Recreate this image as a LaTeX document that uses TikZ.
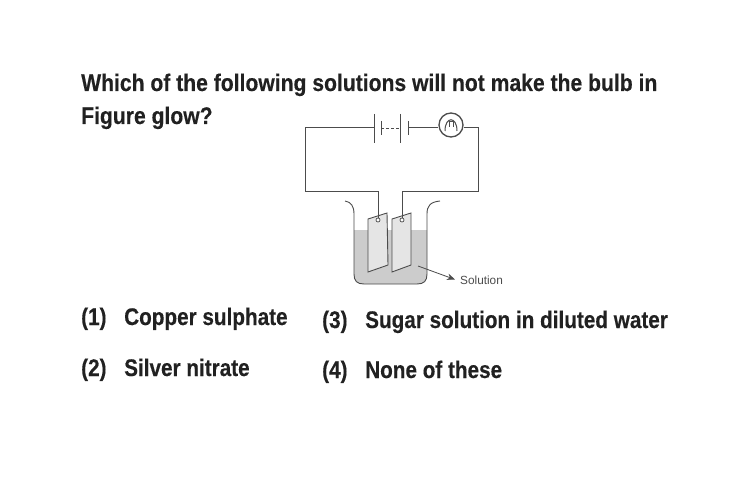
\documentclass[tikz,border=0pt]{standalone}
\usepackage{fontspec}
\setmainfont{Liberation Sans}
\newfontfamily\qfont[FakeStretch=0.88,FakeBold=0.25]{Liberation Sans Bold}
\newfontfamily\afont[FakeStretch=0.863,FakeBold=0.25]{Liberation Sans Bold}
\usetikzlibrary{arrows.meta}
\definecolor{ink}{gray}{0.13}
\definecolor{wirec}{gray}{0.3}
\definecolor{liquid}{gray}{0.8}
\definecolor{plate}{gray}{0.9}
\tikzset{
  x=1pt,y=-1pt,
  qtext/.style={anchor=base west,inner sep=0pt,font=\qfont\fontsize{24}{24}\selectfont,text=ink},
  atext/.style={anchor=base west,inner sep=0pt,font=\afont\fontsize{24}{24}\selectfont,text=ink},
  wire/.style={draw=wirec,line width=1pt},
  thinwire/.style={draw=wirec,line width=0.9pt},
  plateshape/.style={draw=wirec,line width=0.9pt,fill=plate},
  hole/.style={draw=wirec,line width=0.7pt,fill=white,circle,inner sep=0pt,minimum size=4pt},
  small/.style={anchor=base west,inner sep=0pt,font=\fontsize{11.8}{12}\selectfont,text=wirec},
}
\begin{document}
\begin{tikzpicture}
\useasboundingbox (0,0) rectangle (750,500);
\fill[white] (0,0) rectangle (750,500);
\node[qtext] (q1) at (81,91) {Which of the following solutions will not make the bulb in};
\node[qtext] (q2) at (81,124) {Figure glow?};
\node[atext] (a1) at (81,325) {(1)};
\node[atext] (a1t) at (124,325) {Copper sulphate};
\node[atext] (a2) at (81,376) {(2)};
\node[atext] (a2t) at (124,376) {Silver nitrate};
\node[atext] (a3) at (322,328) {(3)};
\node[atext] (a3t) at (365,328) {Sugar solution in diluted water};
\node[atext] (a4) at (322,378) {(4)};
\node[atext] (a4t) at (365,378) {None of these};
% beaker
\fill[liquid] (354,230) -- (354,274)
  .. controls (354,281) and (357,284) .. (364,284) -- (417,284)
  .. controls (424,284) and (427,281) .. (427,274) -- (427,230) -- cycle;
\draw[wire,line width=0.9pt] (345,201) .. controls (351,202) and (354,206) .. (354,214) -- (354,274)
  .. controls (354,281) and (357,284) .. (364,284) -- (417,284)
  .. controls (424,284) and (427,281) .. (427,274) -- (427,214)
  .. controls (427,206) and (430,202) .. (440,201);
% plates
\path[plateshape] (368,219) -- (387,213) -- (388,265) -- (368,272) -- cycle;
\path[plateshape] (392,219) -- (411,213) -- (411,265) -- (392,272) -- cycle;
\node[hole] (h1) at (378,220) {};
\node[hole] (h2) at (402,220) {};
% circuit
\node[circle,draw=wirec,line width=1.3pt,minimum size=24pt,inner sep=0pt] (bulb) at (451,125) {};
\coordinate (b1) at (374.5,128);
\coordinate (b2) at (381,128);
\coordinate (b3) at (400.5,128);
\coordinate (b4) at (408,128);
\coordinate (tl) at (305,128);
\coordinate (bl) at (305,192);
\coordinate (il) at (378,192);
\coordinate (tr) at (478,128);
\coordinate (br) at (478,192);
\coordinate (ir) at (402,192);
\draw[wire] (b1) -- (tl) -- (bl) -- (il) -- (h1.north);
\draw[wire] (bulb.east |- tr) -- (tr) -- (br) -- (ir) -- (h2.north);
\draw[wire] (b4) -- (bulb.west |- b4);
\draw[wire] (374.5,114) -- (374.5,143);
\draw[wire] (381,121) -- (381,135);
\draw[wire] (400.5,114) -- (400.5,143);
\draw[wire] (408,121) -- (408,135);
\draw[thinwire,dash pattern=on 3pt off 2pt] (b2) -- (b3);
\draw[wire,line width=1pt] (445,131) .. controls (445,116) and (457,116) .. (457,131);
\draw[wire,line width=0.9pt] (449,127) -- (449,121) -- (453,121) -- (453,127);
% label
\coordinate (arrS) at (418,266);
\node[small] (sol) at (460,284) {Solution};
\draw[wire,line width=0.8pt,-{Stealth[length=8pt,width=6.5pt]}] (arrS) -- (455,279.5);
\end{tikzpicture}
\end{document}
